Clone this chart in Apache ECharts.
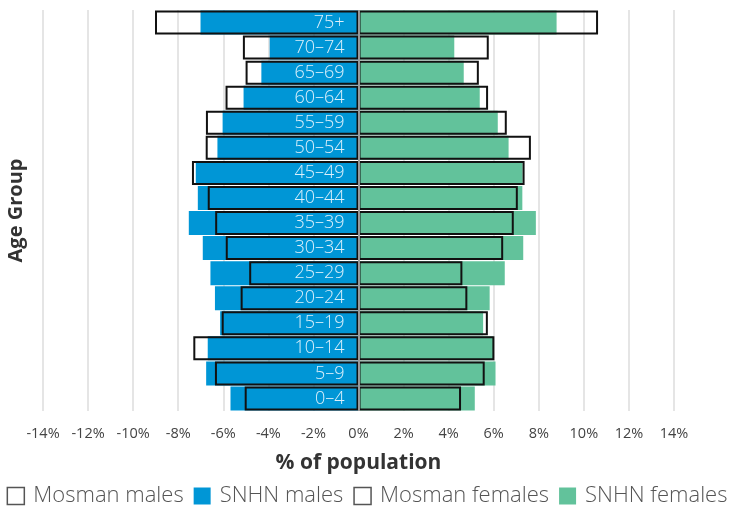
<!DOCTYPE html>
<html>
<head>
<meta charset="utf-8">
<script src="https://cdn.jsdelivr.net/npm/echarts@6/dist/echarts.min.js"></script>
<style>
html,body{margin:0;padding:0;background:#fff;}
#c{width:734px;height:512px;}
</style>
</head>
<body>
<div id="c"></div>
<script>
const ageGroups = ['0–4','5–9','10–14','15–19','20–24','25–29','30–34','35–39','40–44','45–49','50–54','55–59','60–64','65–69','70–74','75+'];
const mosmanMales   = [-5.05,-6.37,-7.33,-6.07,-5.23,-4.85,-5.89,-6.36,-6.69,-7.39,-6.78,-6.77,-5.90,-5.01,-5.13,-9.03];
const snhnMales     = [-5.68,-6.76,-6.69,-6.14,-6.37,-6.57,-6.91,-7.53,-7.13,-7.22,-6.26,-6.03,-5.10,-4.31,-3.94,-7.01];
const mosmanFemales = [4.55,5.60,6.03,5.74,4.83,4.61,6.42,6.89,7.07,7.37,7.65,6.58,5.75,5.34,5.78,10.63];
const snhnFemales   = [5.16,6.08,5.97,5.53,5.82,6.49,7.31,7.87,7.27,7.28,6.66,6.18,5.38,4.67,4.25,8.79];

const BLUE = '#0096D6', GREEN = '#62C29B';
const FONT = 'Open Sans';

const chart = echarts.init(document.getElementById('c'));
const outline = {color: 'rgba(0,0,0,0)', borderColor: '#111', borderWidth: 2};
chart.setOption({
  animation: false,
  textStyle: {fontFamily: FONT},
  grid: {left: 43, right: 60, top: 10, bottom: 101, containLabel: false, outerBoundsMode: 'none'},
  legend: {
    top: 485, left: 'center', width: 734, padding: 0, itemWidth: 17, itemHeight: 17, itemGap: 10,
    textStyle: {fontFamily: FONT, fontSize: 22, color: '#555', fontWeight: 300, padding: [0,0,0,4]},
    data: [
      {name: 'Mosman males', icon: 'rect', itemStyle: {color: '#fff', borderColor: '#555', borderWidth: 1.5}},
      {name: 'SNHN males', icon: 'rect', itemStyle: {color: BLUE}},
      {name: 'Mosman females', icon: 'rect', itemStyle: {color: '#fff', borderColor: '#555', borderWidth: 1.5}},
      {name: 'SNHN females', icon: 'rect', itemStyle: {color: GREEN}}
    ]
  },
  xAxis: {
    type: 'value', min: -14, max: 14, interval: 2,
    axisLine: {show: false}, axisTick: {show: false},
    splitLine: {lineStyle: {color: '#dcdcdc', width: 1.5}},
    axisLabel: {formatter: '{value}%', color: '#444', fontSize: 14.5, margin: 15, fontFamily: FONT},
    name: '% of population', nameLocation: 'middle', nameGap: 42,
    nameTextStyle: {fontSize: 21, fontWeight: 'bold', color: '#333', fontFamily: FONT}
  },
  yAxis: {
    type: 'category', data: ageGroups,
    axisLine: {show: false, onZero: false}, axisTick: {show: false}, axisLabel: {show: false},
    name: 'Age Group', nameLocation: 'middle', nameGap: 17,
    nameTextStyle: {fontSize: 20, fontWeight: 'bold', color: '#333', fontFamily: FONT}
  },
  series: [
    {name: 'SNHN males', type: 'bar', data: snhnMales, barWidth: 24, barGap: '-100%',
     itemStyle: {color: BLUE},
     label: {show: true, position: 'insideRight', distance: 14, formatter: '{b}', color: '#dcf0fb', fontSize: 18, fontWeight: 300, fontFamily: FONT}},
    {name: 'SNHN females', type: 'bar', data: snhnFemales, barWidth: 24, barGap: '-100%', itemStyle: {color: GREEN}},
    {name: 'Mosman males', type: 'bar', data: mosmanMales, barWidth: 24, barGap: '-100%', itemStyle: outline, z: 3},
    {name: 'Mosman females', type: 'bar', data: mosmanFemales, barWidth: 24, barGap: '-100%', itemStyle: outline, z: 3,
     markLine: {silent: true, symbol: 'none', label: {show: false},
       lineStyle: {color: '#999', width: 2, type: 'solid'}, data: [{xAxis: 0}]}}
  ]
});
</script>
</body>
</html>
